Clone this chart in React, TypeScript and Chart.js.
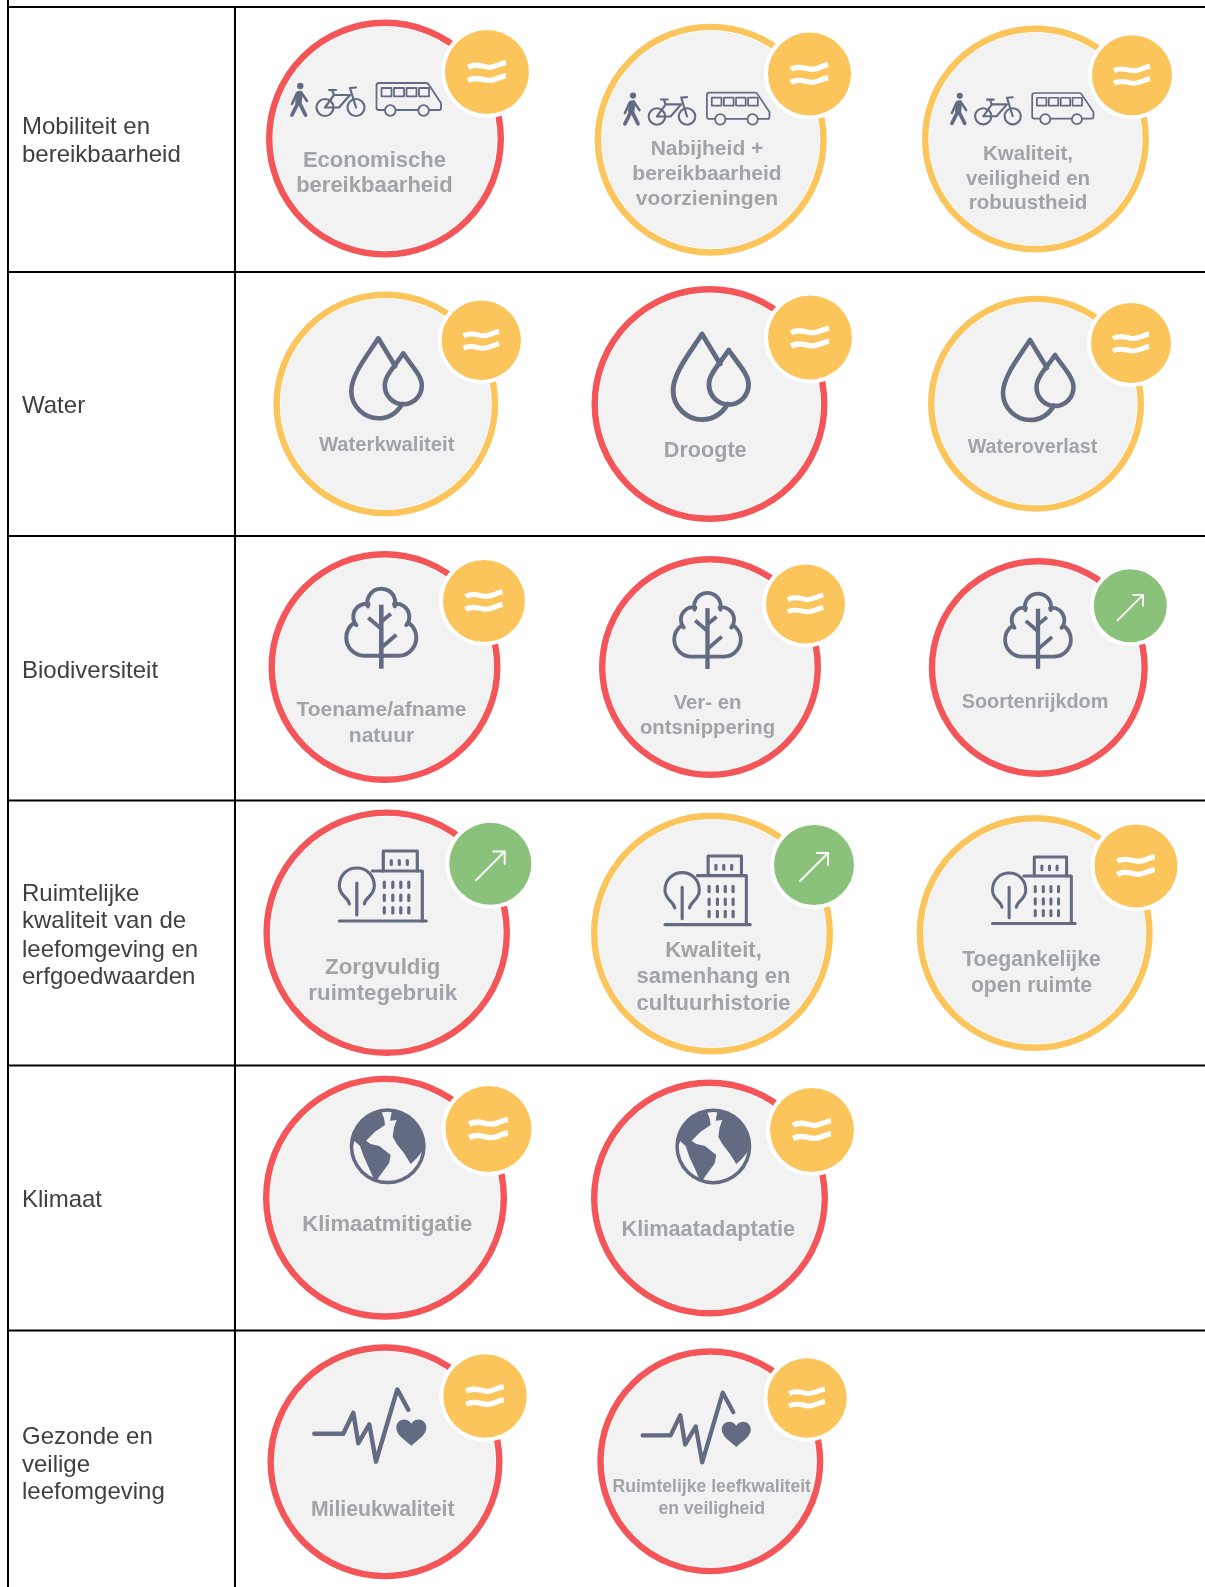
import React, { useEffect, useRef } from "react";
import { Chart, registerables } from "chart.js";

Chart.register(...registerables);

const rowLabels = [
  ["Mobiliteit en", "bereikbaarheid"],
  ["Water"],
  ["Biodiversiteit"],
  ["Ruimtelijke", "kwaliteit van de", "leefomgeving en", "erfgoedwaarden"],
  ["Klimaat"],
  ["Gezonde en", "veilige", "leefomgeving"],
];
const rowLabelY = [
  [127.5, 155.8],
  [406.7],
  [671],
  [894.4, 921.7, 950, 977.4],
  [1200],
  [1437.7, 1465, 1492.4],
];
const ruleX = [8, 235];
const ruleY = [7, 272, 536, 800.5, 1065.5, 1330.5];

const indicatorNames = [
  ["Economische", "bereikbaarheid"],
  ["Nabijheid +", "bereikbaarheid", "voorzieningen"],
  ["Kwaliteit,", "veiligheid en", "robuustheid"],
  ["Waterkwaliteit"],
  ["Droogte"],
  ["Wateroverlast"],
  ["Toename/afname", "natuur"],
  ["Ver- en", "ontsnippering"],
  ["Soortenrijkdom"],
  ["Zorgvuldig", "ruimtegebruik"],
  ["Kwaliteit,", "samenhang en", "cultuurhistorie"],
  ["Toegankelijke", "open ruimte"],
  ["Klimaatmitigatie"],
  ["Klimaatadaptatie"],
  ["Milieukwaliteit"],
  ["Ruimtelijke leefkwaliteit", "en veiligheid"],
];
const status = ["red", "yellow", "yellow", "yellow", "red", "yellow", "red", "red", "red", "red", "yellow", "yellow", "red", "red", "red", "red"];
const trend = ["stable", "stable", "stable", "stable", "stable", "stable", "stable", "stable", "up", "up", "up", "stable", "stable", "stable", "stable", "stable"];
const theme = ["mobility", "mobility", "mobility", "water", "water", "water", "tree", "tree", "tree", "city", "city", "city", "globe", "globe", "pulse", "pulse"];

const ringX = [385, 710.7, 1035.5, 385.8, 709.5, 1036, 384.5, 710, 1038.3, 386.7, 712, 1034.7, 385, 709.5, 385, 710.3];
const ringY = [138.6, 139.7, 139, 403.9, 404, 403.7, 667, 667, 667.5, 932.7, 933.5, 933, 1197.7, 1198, 1461.8, 1461.3];
const ringR = [119, 116, 113.5, 112.4, 118, 108, 116, 111, 109.5, 123.3, 121, 118, 122, 118.5, 117.5, 113];
const badgeX = [487, 809.5, 1132, 481.3, 810, 1131, 484, 805.5, 1130.3, 490.3, 814, 1136, 488.5, 812, 485, 807];
const badgeY = [72, 74, 75.3, 340.3, 337.5, 343, 601, 604, 605.8, 863.8, 865, 866, 1129, 1130, 1396, 1398];
const badgeR = [42, 41.5, 40, 39.7, 42, 40, 41, 39.5, 36.5, 41, 40, 41.5, 43, 42, 41.7, 39.7];

const iconX = [290, 623, 950, 378.3, 702, 1030, 381.3, 707.5, 1038, 339.3, 665, 992.5, 387.7, 713.3, 313.3, 641.7];
const iconY = [83, 92.7, 93, 338.3, 334, 340, 587.7, 592, 592.7, 850, 855, 856, 1146.3, 1146.4, 1387.7, 1391];
const iconScale = [1, 0.97, 0.95, 1, 1.07, 1, 1, 0.95, 0.94, 1, 0.98, 0.95, 1, 1, 1, 0.965];

const nameX = [374.4, 707, 1028, 386.7, 705.2, 1032.5, 381.5, 707.5, 1035, 382.7, 713.5, 1031.5, 387.3, 708.3, 382.7, 711.7];
const nameY = [
  [160.5, 185.5],
  [149, 174, 199],
  [154, 179, 203.5],
  [445.3],
  [451],
  [448],
  [710.5, 736.5],
  [703, 728.5],
  [702.7],
  [967.7, 993.5],
  [951, 977, 1003.5],
  [960, 986.5],
  [1225.3],
  [1230.3],
  [1510.3],
  [1487, 1508.7],
];
const nameSize = [22, 21, 20.5, 20.3, 21.6, 19.7, 21, 20.3, 19.85, 22.3, 22, 21.2, 22, 21.7, 21.2, 17.6];

const RED = "#f45558";
const YELLOW = "#fbc55c";
const GREEN = "#8ac17b";
const INK = "#636b82";
const PANEL = "#f2f2f2";
const NAME_INK = "#a0a3a8";
const ROW_INK = "#404040";
const SANS = '"Liberation Sans", Arial, sans-serif';

type C = CanvasRenderingContext2D;

function line(ctx: C, pts: number[][]) {
  ctx.beginPath();
  pts.forEach((p, i) => (i ? ctx.lineTo(p[0], p[1]) : ctx.moveTo(p[0], p[1])));
  ctx.stroke();
}

function drawMobility(ctx: C) {
  ctx.strokeStyle = INK;
  ctx.fillStyle = INK;
  ctx.lineCap = "round";
  ctx.lineJoin = "round";
  ctx.beginPath();
  ctx.arc(10.3, 3, 3.2, 0, Math.PI * 2);
  ctx.fill();
  ctx.lineWidth = 6.5;
  line(ctx, [[9.5, 11], [8.5, 19]]);
  ctx.lineWidth = 3.8;
  line(ctx, [[8, 20], [2, 32]]);
  line(ctx, [[9.5, 20], [15.5, 32]]);
  ctx.lineWidth = 2.6;
  line(ctx, [[7, 10], [2, 21]]);
  line(ctx, [[11, 9], [17, 18]]);
  ctx.lineWidth = 2.2;
  [35, 66].forEach((x) => {
    ctx.beginPath();
    ctx.arc(x, 24.5, 8.5, 0, Math.PI * 2);
    ctx.stroke();
  });
  line(ctx, [[35, 24.5], [44, 12], [60, 12], [49, 24.5], [35, 24.5]]);
  line(ctx, [[44, 12], [42, 7]]);
  line(ctx, [[39, 7], [46, 7]]);
  line(ctx, [[66, 24.5], [60, 5], [66, 4.5]]);
  ctx.lineWidth = 1.8;
  ctx.beginPath();
  ctx.moveTo(105.6, 27);
  ctx.lineTo(128.3, 27);
  ctx.moveTo(139, 27);
  ctx.lineTo(149, 27);
  ctx.quadraticCurveTo(151, 27, 151, 25);
  ctx.lineTo(151, 20);
  ctx.lineTo(139, 2);
  ctx.quadraticCurveTo(138, 0, 136, 0);
  ctx.lineTo(89, 0);
  ctx.quadraticCurveTo(86.5, 0, 86.5, 2.5);
  ctx.lineTo(86.5, 25);
  ctx.quadraticCurveTo(86.5, 27, 89, 27);
  ctx.lineTo(95, 27);
  ctx.stroke();
  [100.3, 133.6].forEach((x) => {
    ctx.beginPath();
    ctx.arc(x, 27.5, 5.3, 0, Math.PI * 2);
    ctx.stroke();
  });
  [91.5, 104, 116.5, 129].forEach((x) => ctx.strokeRect(x, 5, 10, 8.3));
}

function drawWater(ctx: C) {
  ctx.strokeStyle = INK;
  ctx.lineWidth = 4.6;
  ctx.lineCap = "round";
  ctx.lineJoin = "round";
  ctx.beginPath();
  ctx.moveTo(17, 28);
  ctx.lineTo(0, 0);
  ctx.bezierCurveTo(-10, 16, -27, 36, -27, 53);
  ctx.bezierCurveTo(-27, 68, -14, 80, 0, 80);
  ctx.bezierCurveTo(11, 80, 19, 74, 24, 65.5);
  ctx.stroke();
  ctx.beginPath();
  ctx.moveTo(25, 15);
  ctx.bezierCurveTo(18, 26, 6.5, 37, 6.5, 47);
  ctx.bezierCurveTo(6.5, 58, 15, 66, 25, 66);
  ctx.bezierCurveTo(35, 66, 43.5, 58, 43.5, 47);
  ctx.bezierCurveTo(43.5, 37, 32, 26, 25, 15);
  ctx.closePath();
  ctx.stroke();
}

function drawTree(ctx: C) {
  const d = Math.PI / 180;
  ctx.strokeStyle = INK;
  ctx.lineWidth = 4;
  ctx.lineJoin = "round";
  ctx.lineCap = "butt";
  ctx.beginPath();
  ctx.moveTo(0, 68);
  ctx.lineTo(-17, 68);
  ctx.arc(-17, 50, 18, 90 * d, 235 * d);
  ctx.arc(-15, 29, 13, 140 * d, 280 * d);
  ctx.arc(0, 15, 14, 165 * d, 375 * d);
  ctx.arc(15, 29, 13, 260 * d, 400 * d);
  ctx.arc(17, 50, 18, 305 * d, 450 * d);
  ctx.lineTo(0, 68);
  ctx.stroke();
  ctx.lineWidth = 4.6;
  line(ctx, [[0, 17], [0, 81]]);
  ctx.lineWidth = 4;
  line(ctx, [[-13, 30], [0, 41]]);
  line(ctx, [[9.5, 26], [0, 34]]);
  line(ctx, [[15, 47], [0, 60]]);
}

function drawCity(ctx: C) {
  ctx.strokeStyle = INK;
  ctx.lineCap = "round";
  ctx.lineJoin = "round";
  ctx.lineWidth = 3.2;
  line(ctx, [[0, 71], [87, 71]]);
  line(ctx, [[33, 21], [83, 21], [83, 71]]);
  line(ctx, [[44, 21], [44, 1], [78, 1], [78, 21]]);
  line(ctx, [[17.5, 33], [17.5, 65]]);
  ctx.beginPath();
  ctx.moveTo(10, 54);
  ctx.bezierCurveTo(9, 47, 0, 46, 0, 36);
  ctx.bezierCurveTo(0, 25, 8, 18, 17.5, 18);
  ctx.bezierCurveTo(27, 18, 35, 25, 35, 36);
  ctx.bezierCurveTo(35, 46, 26, 47, 25, 54);
  ctx.stroke();
  ctx.lineWidth = 3.2;
  [52, 60, 68].forEach((x) => line(ctx, [[x, 10.5], [x, 14.5]]));
  [45, 53.5, 61.5, 69.5].forEach((x) => {
    line(ctx, [[x, 32], [x, 37.5]]);
    line(ctx, [[x, 45], [x, 50.5]]);
    line(ctx, [[x, 57.5], [x, 63]]);
  });
}

function polygon(ctx: C, pts: number[][]) {
  ctx.beginPath();
  pts.forEach((p, i) => (i ? ctx.lineTo(p[0], p[1]) : ctx.moveTo(p[0], p[1])));
  ctx.closePath();
  ctx.fill();
}

function drawGlobe(ctx: C) {
  ctx.fillStyle = INK;
  ctx.beginPath();
  ctx.arc(0, 0, 38, 0, Math.PI * 2);
  ctx.fill();
  ctx.save();
  ctx.beginPath();
  ctx.arc(0, 0, 34.5, 0, Math.PI * 2);
  ctx.clip();
  ctx.scale(1 / 3, 1 / 3);
  ctx.translate(-383, -229);
  ctx.fillStyle = PANEL;
  polygon(ctx, [[362, 120], [372, 145], [375, 165], [345, 185], [318, 212], [332, 222], [358, 228], [392, 255], [387, 280], [365, 310], [352, 328], [352, 350], [480, 350], [490, 240], [470, 265], [452, 282], [432, 250], [410, 222], [398, 200], [402, 172], [410, 150], [390, 152], [396, 120]]);
  polygon(ctx, [[283, 213], [300, 228], [312, 262], [332, 305], [342, 330], [300, 310], [270, 260]]);
  ctx.restore();
}

function drawPulse(ctx: C) {
  ctx.strokeStyle = INK;
  ctx.fillStyle = INK;
  ctx.lineWidth = 4.4;
  ctx.lineCap = "round";
  ctx.lineJoin = "round";
  line(ctx, [[1, 46], [30, 46], [40, 25], [45, 55.5], [56, 36.7], [62.7, 74], [84, 1.7], [95, 22]]);
  ctx.beginPath();
  ctx.moveTo(98, 58);
  ctx.bezierCurveTo(90, 51, 83, 47, 83, 40);
  ctx.bezierCurveTo(83, 31, 94, 29, 98, 36);
  ctx.bezierCurveTo(102, 29, 113, 31, 113, 40);
  ctx.bezierCurveTo(113, 47, 106, 51, 98, 58);
  ctx.closePath();
  ctx.fill();
}

const iconPainters: Record<string, (ctx: C) => void> = {
  mobility: drawMobility,
  water: drawWater,
  tree: drawTree,
  city: drawCity,
  globe: drawGlobe,
  pulse: drawPulse,
};

function drawStable(ctx: C) {
  ctx.strokeStyle = "#ffffff";
  ctx.lineWidth = 5;
  ctx.lineCap = "butt";
  [0, 12.5].forEach((dy) => {
    ctx.beginPath();
    ctx.moveTo(-18, -4.5 + dy);
    ctx.bezierCurveTo(-10, -9 + dy, -4, -4.5 + dy, 2, -4.5 + dy);
    ctx.bezierCurveTo(8, -4.5 + dy, 12, -8 + dy, 18, -9 + dy);
    ctx.stroke();
  });
}

function drawUp(ctx: C) {
  ctx.strokeStyle = "#ffffff";
  ctx.lineWidth = 1.9;
  ctx.lineCap = "round";
  ctx.lineJoin = "miter";
  line(ctx, [[-14, 16], [14, -12]]);
  line(ctx, [[3, -12], [14, -12], [14, 0]]);
}

const overlayPlugin = {
  id: "overlay",
  afterDatasetsDraw(chart: any) {
    const ctx: C = chart.ctx;
    const px = (v: number) => chart.scales.x.getPixelForValue(v);
    const py = (v: number) => chart.scales.y.getPixelForValue(v);
    ctx.save();
    ctx.textAlign = "left";
    ctx.textBaseline = "middle";
    ctx.fillStyle = ROW_INK;
    ctx.font = `24px ${SANS}`;
    rowLabels.forEach((lines, r) =>
      lines.forEach((t, i) => ctx.fillText(t, px(22), py(rowLabelY[r][i])))
    );
    ctx.textAlign = "center";
    indicatorNames.forEach((lines, k) => {
      ctx.fillStyle = NAME_INK;
      ctx.font = `bold ${nameSize[k]}px ${SANS}`;
      lines.forEach((t, i) => ctx.fillText(t, px(nameX[k]), py(nameY[k][i])));
      ctx.save();
      ctx.translate(px(iconX[k]), py(iconY[k]));
      ctx.scale(iconScale[k], iconScale[k]);
      iconPainters[theme[k]](ctx);
      ctx.restore();
      ctx.save();
      ctx.translate(px(badgeX[k]), py(badgeY[k]));
      const s = badgeR[k] / 40;
      ctx.scale(s, s);
      (trend[k] === "up" ? drawUp : drawStable)(ctx);
      ctx.restore();
    });
    ctx.restore();
  },
};

export default function App() {
  const ref = useRef<HTMLCanvasElement | null>(null);
  useEffect(() => {
    const canvas = ref.current;
    if (!canvas) return;
    const points = (r: number[], xs: number[], ys: number[], extra: number) =>
      xs.map((x, i) => ({ x, y: ys[i], r: r[i] + extra }));
    const rules = [
      ...ruleY.map((y) => [{ x: ruleX[0], y }, { x: 1205, y }]),
      [{ x: ruleX[0], y: 0 }, { x: ruleX[0], y: 1587 }],
      [{ x: ruleX[1], y: ruleY[0] }, { x: ruleX[1], y: 1587 }],
    ];
    const chart = new Chart(canvas, {
      type: "bubble",
      data: {
        datasets: [
          {
            order: 1,
            data: points(badgeR, badgeX, badgeY, 0),
            backgroundColor: trend.map((t) => (t === "up" ? GREEN : YELLOW)),
            borderWidth: 0,
          },
          {
            order: 2,
            data: points(badgeR, badgeX, badgeY, 4),
            backgroundColor: "#ffffff",
            borderWidth: 0,
          },
          {
            order: 3,
            data: points(ringR, ringX, ringY, -7.2),
            backgroundColor: PANEL,
            borderWidth: 0,
          },
          {
            order: 4,
            data: points(ringR, ringX, ringY, -3.2),
            backgroundColor: "#ffffff",
            borderColor: status.map((s) => (s === "red" ? RED : YELLOW)),
            borderWidth: 6.4,
          },
          ...rules.map((data) => ({
            type: "scatter" as const,
            order: 5,
            data,
            showLine: true,
            pointRadius: 0,
            borderColor: "#000000",
            borderWidth: 2,
          })),
        ] as any,
      },
      options: {
        responsive: false,
        animation: false,
        events: [],
        layout: { padding: 0, autoPadding: false },
        plugins: { legend: { display: false }, tooltip: { enabled: false } },
        scales: {
          x: { type: "linear", display: false, min: 0, max: 1205 },
          y: { type: "linear", display: false, min: 0, max: 1587, reverse: true },
        },
      },
      plugins: [overlayPlugin],
    });
    return () => chart.destroy();
  }, []);
  return (
    <canvas
      ref={ref}
      width={1205}
      height={1587}
      style={{ position: "absolute", left: 0, top: 0, display: "block", background: "#ffffff" }}
    />
  );
}
